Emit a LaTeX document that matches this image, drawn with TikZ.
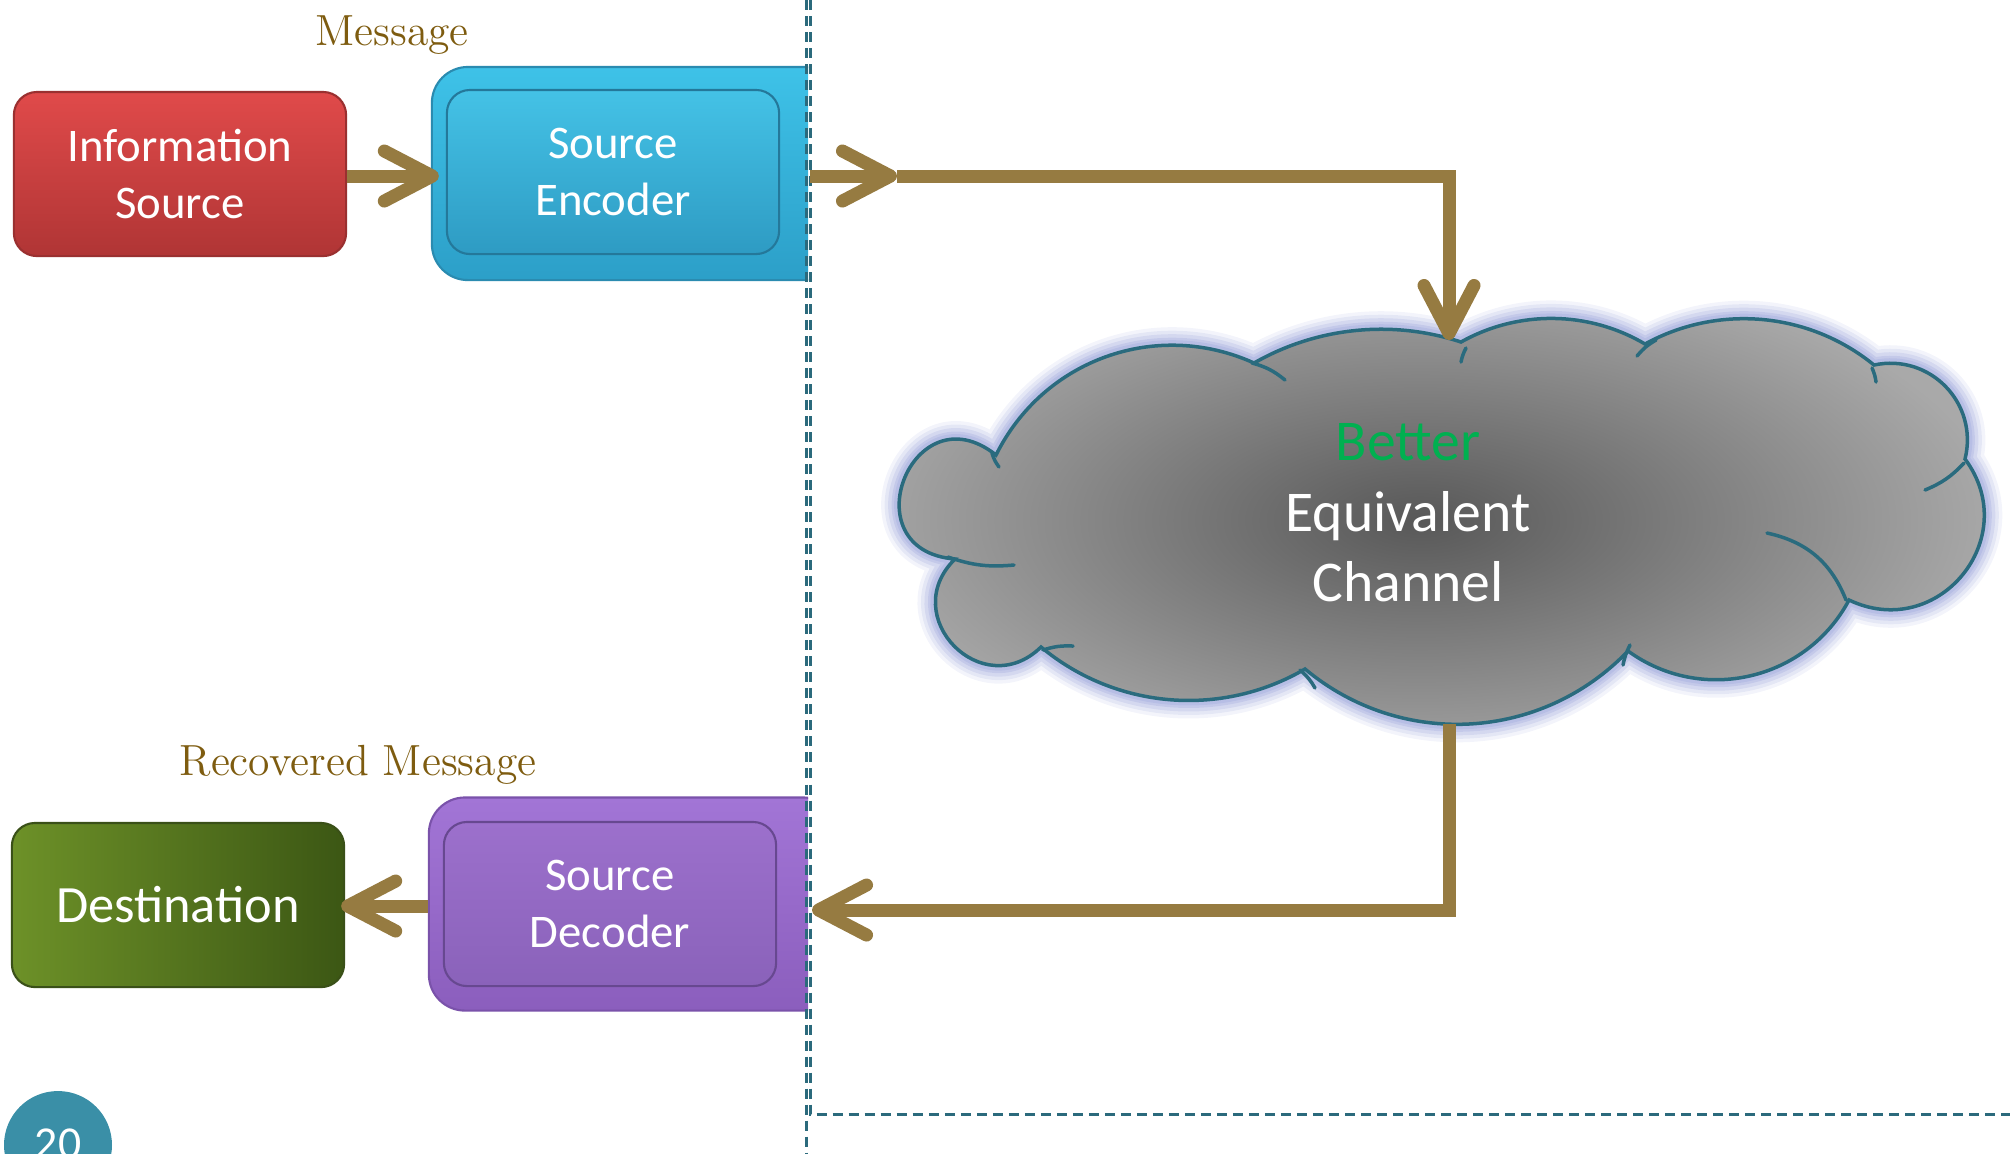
\documentclass[tikz,border=0pt]{standalone}
\usepackage{fontspec}
\newfontfamily\calibri{Carlito}
\usetikzlibrary{arrows.meta}

\definecolor{infotop}{HTML}{E04A4A}
\definecolor{infobot}{HTML}{B03535}
\definecolor{infoedge}{HTML}{9A3030}
\definecolor{enctop}{HTML}{3EC2E8}
\definecolor{encbot}{HTML}{2C9FC8}
\definecolor{encedge}{HTML}{2A8BB0}
\definecolor{encintop}{HTML}{44C2E6}
\definecolor{encinbot}{HTML}{2E9BC3}
\definecolor{encinedge}{HTML}{24789A}
\definecolor{dectop}{HTML}{A275D6}
\definecolor{decbot}{HTML}{8B5EBD}
\definecolor{decedge}{HTML}{7A52AA}
\definecolor{decintop}{HTML}{9C70CC}
\definecolor{decinbot}{HTML}{8A62BA}
\definecolor{decinedge}{HTML}{674890}
\definecolor{destleft}{HTML}{6D9128}
\definecolor{destright}{HTML}{3C5714}
\definecolor{destedge}{HTML}{3A5018}
\definecolor{flowbrown}{HTML}{967B41}
\definecolor{msgbrown}{HTML}{7E5C10}
\definecolor{dashteal}{HTML}{2B6A7C}
\definecolor{cloudedge}{HTML}{2A6B7E}
\definecolor{cloudglow}{HTML}{9FA8DC}
\definecolor{cloudmid}{HTML}{585858}
\definecolor{cloudrim}{HTML}{A9A9A9}
\definecolor{better}{HTML}{00B050}
\definecolor{pagecirc}{HTML}{3A8FA7}

% outline of the channel cloud, one bend per puff
\def\cloudoutline{(996,-455)
	to[bend left=44,looseness=1.0] (1254,-363)
	to[bend left=24,looseness=0.89] (1461,-342)
	to[bend left=30,looseness=0.91] (1645,-344)
	to[bend left=34,looseness=0.93] (1874,-365)
	to[bend left=58,looseness=1.12] (1965,-459)
	to[bend left=76,looseness=1.38] (1849,-600)
	to[bend left=49,looseness=1.03] (1628,-651)
	to[bend left=43,looseness=0.99] (1305,-669)
	to[bend left=35,looseness=0.94] (1041,-647)
	to[bend left=90,looseness=1.7] (955,-559)
	to[bend left=107,looseness=2.45] (996,-455) -- cycle}

\tikzset{
	srcbox/.style={rounded corners=0.23cm, minimum width=3.32cm, minimum height=1.64cm,
		inner sep=0pt, align=center, text=white, line width=0.6pt,
		font=\calibri\fontsize{13.3}{16}\selectfont},
	frame/.style={rounded corners=0.36cm, minimum width=4.1cm, minimum height=2.13cm,
		inner sep=0pt, line width=0.6pt},
	flow/.style={draw=flowbrown, line width=0.13cm,
		-{Straight Barb[length=0.48cm, width=0.5cm, round]}},
	msgtext/.style={text=msgbrown, font=\fontsize{12.4}{15}\selectfont},
	dashline/.style={draw=dashteal, line width=0.03cm, dash pattern=on 0.1cm off 0.06cm},
	cloudline/.style={draw=cloudedge, line width=0.035cm, line cap=round},
}

\begin{document}
\begin{tikzpicture}[x=0.01cm, y=0.01cm]
	\useasboundingbox (0,0) rectangle (2010,-1153);
	
	%%%%% channel cloud %%%%%
	\foreach \w/\o in {0.36/0.12, 0.29/0.18, 0.22/0.24, 0.15/0.3, 0.1/0.35}
		\draw[cloudglow, line width=\w cm, opacity=\o, line join=round] \cloudoutline;
	\fill[cloudrim] \cloudoutline;
	\begin{scope}
		\clip \cloudoutline;
		\shade[inner color=cloudmid, outer color=cloudrim] (1420,-520) ellipse (580 and 260);
	\end{scope}
	\draw[cloudline] \cloudoutline;
	
	% inner puff strokes
	\draw[cloudline] (992,-453) to[bend right=10] (999,-467);
	\draw[cloudline] (948,-557) to[bend right=12] (1014,-565);
	\draw[cloudline] (1252,-363) to[bend left=12] (1285,-380);
	\draw[cloudline] (1466,-348) to[bend right=8] (1461,-362);
	\draw[cloudline] (1656,-340) to[bend right=10] (1637,-356);
	\draw[cloudline] (1872,-368) to[bend left=8] (1876,-382);
	\draw[cloudline] (1964,-463) to[bend left=12] (1925,-490);
	\draw[cloudline] (1767,-533) to[bend left=28] (1846,-600);
	\draw[cloudline] (1630,-645) to[bend right=8] (1623,-665);
	\draw[cloudline] (1300,-670) to[bend left=10] (1315,-688);
	\draw[cloudline] (1043,-650) to[bend left=10] (1073,-646);
	
	\node[align=center, text=white, font=\calibri\fontsize{16.4}{20}\selectfont]
		(channel) at (1408,-513) {\textcolor{better}{Better}\\Equivalent\\Channel};
	
	%%%%% encoder / decoder frames, cut at the channel border %%%%%
	\begin{scope}
		\clip (0,0) rectangle (808,-1153);
		\node[frame, top color=enctop, bottom color=encbot, draw=encedge] (encframe) at (637,-173.5) {};
		\node[frame, top color=dectop, bottom color=decbot, draw=decedge] (decframe) at (634,-904) {};
	\end{scope}
	
	\node[srcbox, top color=infotop, bottom color=infobot, draw=infoedge] (info) at (180,-174) {Information\\Source};
	\node[srcbox, top color=encintop, bottom color=encinbot, draw=encinedge] (encoder) at (613,-172) {Source\\Encoder};
	\node[srcbox, top color=decintop, bottom color=decinbot, draw=decinedge] (decoder) at (610,-904) {Source\\Decoder};
	\node[srcbox, left color=destleft, right color=destright, draw=destedge,
		font=\calibri\fontsize{14.9}{18}\selectfont] (dest) at (178,-905) {Destination};
	
	\node[msgtext] (msg) at (392,-35) {Message};
	\node[msgtext] (recmsg) at (358,-765) {Recovered Message};
	
	%%%%% channel border %%%%%
	\draw[dashline] (806,0) -- (806,-1153);
	\draw[dashline] (810,0) -- (810,-1114) -- (2010,-1114);
	
	%%%%% arrows %%%%%
	\coordinate (encout) at (810,-176);
	\coordinate (encmid) at (897,-176);
	\coordinate (chantop) at (1449,-340);
	\coordinate (chanbot) at (1449,-724);
	\coordinate (decin) at (812,-910);
	
	\draw[flow, shorten >=-0.08cm] (info.east |- 0,-176) -- (encframe.west |- 0,-176);
	\draw[flow] (encout) -- (encmid);
	\draw[flow] (encmid) -| (chantop);
	\draw[flow] (chanbot) |- (decin);
	\draw[flow, shorten >=-0.04cm] (decframe.west |- 0,-906) -- (dest.east |- 0,-906);
	
	%%%%% page number %%%%%
	\fill[pagecirc] (58,-1145) circle (54);
	\node[anchor=base, text=white, font=\calibri\fontsize{13}{15}\selectfont] (pagenum) at (58,-1158) {20};
\end{tikzpicture}
\end{document}
